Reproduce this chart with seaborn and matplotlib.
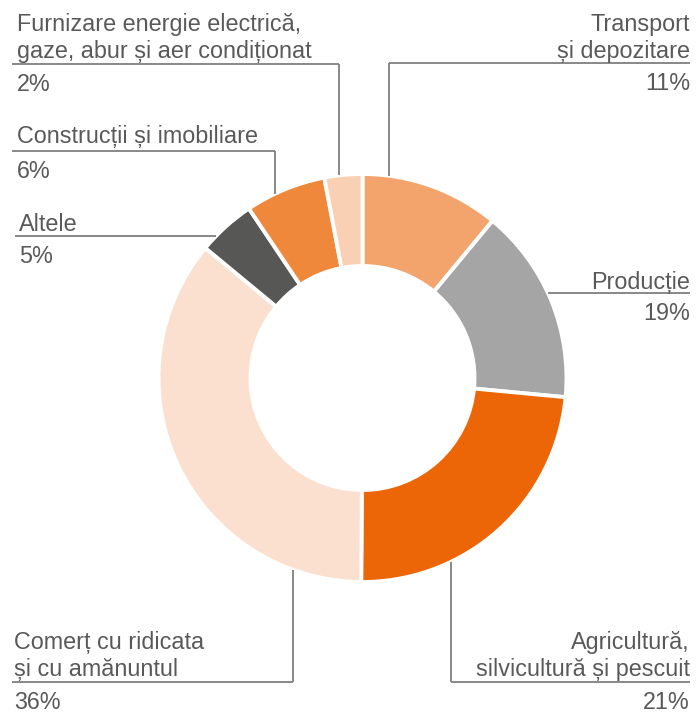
import numpy as np
import matplotlib
matplotlib.use("Agg")
import matplotlib.pyplot as plt
import seaborn as sns

# slice sizes as drawn (share of circle), clockwise from top
sectors = ["Transport și depozitare", "Producție", "Agricultură, silvicultură și pescuit",
           "Comerț cu ridicata și cu amănuntul", "Altele", "Construcții și imobiliare",
           "Furnizare energie electrică, gaze, abur și aer condiționat"]
shares = [11.0, 15.5, 23.6, 35.9, 4.6, 6.4, 3.0]
pct_labels = ["11%", "19%", "21%", "36%", "5%", "6%", "2%"]
label_lines = [["Transport", "și depozitare"],
               ["Producție"],
               ["Agricultură,", "silvicultură și pescuit"],
               ["Comerț cu ridicata", "și cu amănuntul"],
               ["Altele"],
               ["Construcții și imobiliare"],
               ["Furnizare energie electrică,", "gaze, abur și aer condiționat"]]
colors = ["#F3A46C", "#A5A5A5", "#EC6608", "#FBE0D0", "#575756", "#F0883B", "#F9D0B3"]

W, H = 696, 713
cx, cy, R, R_in = 362.5, 378, 204, 112
TXT = "#595959"
LINE = "#7F7F7F"

sns.set_theme(style="white")
plt.rcParams["font.family"] = ["Liberation Sans", "DejaVu Sans"]

fig = plt.figure(figsize=(W / 100, H / 100), dpi=100)
ax = fig.add_axes([0, 0, 1, 1])

# y axis is inverted (pixel coords), so start at -90 and go "counterclock" = clockwise on screen
ax.pie(shares, colors=colors, startangle=-90, counterclock=True, center=(cx, cy), radius=R,
       wedgeprops=dict(width=R - R_in, edgecolor="white", linewidth=2.8))
ax.set_xlim(0, W)
ax.set_ylim(H, 0)
ax.set_aspect("equal")
ax.axis("off")


def circle_y(x, top=True):
    d = np.sqrt(R ** 2 - (x - cx) ** 2)
    return cy - d if top else cy + d


def circle_x(y, left=True):
    d = np.sqrt(R ** 2 - (y - cy) ** 2)
    return cx - d if left else cx + d


fs = 16.8
step = 27
# (text x, align, first baseline, underline y, line x0, line x1, vertical x, top/bottom)
layout = {
    0: (690, "right", 31, 63, 389, 690, 389, "top"),
    1: (690, "right", 289, 293, None, 690, None, None),
    2: (690, "right", 649, 682, 451, 690, 451, "bottom"),
    3: (14, "left", 649, 682, 12, 293, 293, "bottom"),
    4: (19, "left", 231, 236, 15, None, None, None),
    5: (17, "left", 143, 151, 12, 275, 275, "top"),
    6: (17, "left", 31, 64, 12, 339, 339, "top"),
}

for i, (tx, ha, b0, uy, x0, x1, vx, side) in layout.items():
    lines = label_lines[i]
    for k, s in enumerate(lines):
        ax.text(tx, b0 + k * step, s, ha=ha, va="baseline", fontsize=fs, color=TXT)
    ax.text(tx, uy + 27, pct_labels[i], ha=ha, va="baseline", fontsize=fs, color=TXT)
    if x0 is None:
        x0 = circle_x(uy, left=False)
    if x1 is None:
        x1 = circle_x(uy, left=True)
    ax.plot([x0, x1], [uy, uy], color=LINE, lw=1.3, solid_capstyle="butt")
    if vx is not None:
        ye = circle_y(vx, top=(side == "top"))
        ax.plot([vx, vx], [uy, ye], color=LINE, lw=1.3, solid_capstyle="butt")

fig.savefig("out.png", dpi=100)
